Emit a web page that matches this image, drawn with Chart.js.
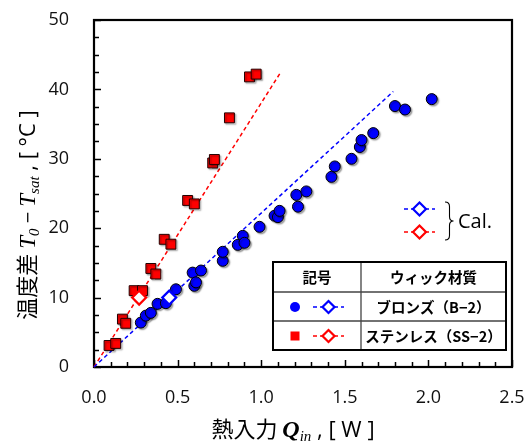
<!DOCTYPE html>
<html><head><meta charset="utf-8">
<script src="https://cdn.jsdelivr.net/npm/chart.js@4/dist/chart.umd.min.js"></script>
<style>html,body{margin:0;padding:0;background:#fff}#wrap{width:530px;height:444px}</style>
</head><body><div id="wrap"><canvas id="c" width="530" height="444"></canvas></div>
<script>
// Measured temperature difference vs. heat input for two wick materials
const bronzeQ = [0.28,0.31,0.34,0.38,0.43,0.49,0.59,0.60,0.61,0.64,0.77,0.77,0.86,0.89,0.90,0.99,1.08,1.10,1.11,1.21,1.22,1.27,1.42,1.44,1.54,1.59,1.60,1.67,1.80,1.86,2.02];
const bronzeT = [6.4,7.4,7.8,9.1,9.2,11.2,13.6,11.7,12.2,13.9,15.3,16.6,17.6,18.9,17.9,20.2,21.8,21.6,22.5,24.8,23.1,25.3,27.4,28.9,30.0,31.7,32.7,33.7,37.6,37.1,38.6];
const stainlessQ = [0.09,0.13,0.17,0.19,0.24,0.29,0.34,0.37,0.42,0.46,0.56,0.60,0.71,0.72,0.81,0.93,0.97];
const stainlessT = [3.1,3.4,6.9,6.3,11.0,11.0,14.2,13.4,18.4,17.7,24.0,23.5,29.4,29.9,35.9,41.8,42.2];

// Calculated lines (start, end) and calculated marker points
const bronzeCalLineQ = [0, 1.79];
const bronzeCalLineT = [0, 39.7];
const stainlessCalLineQ = [0, 1.12];
const stainlessCalLineT = [0, 42.6];
const bronzeCalQ = [0.45];
const bronzeCalT = [10.0];
const stainlessCalQ = [0.27];
const stainlessCalT = [10.0];

// Axis ticks
const xTicks = [0, 0.5, 1.0, 1.5, 2.0, 2.5];
const yTicks = [0, 10, 20, 30, 40, 50];

// Legend table texts
const tableHeader = ['記号', 'ウィック材質'];
const tableRows = ['ブロンズ（B−2）', 'ステンレス（SS−2）'];
const calText = 'Cal.';

const BLUE = '#0000ff', RED = '#ff0000';
const pts = (xs, ys) => xs.map((x, i) => ({x, y: ys[i]}));

const SANS = '"Open Sans", "Liberation Sans", sans-serif';
const CJK = '"Noto Sans CJK JP", sans-serif';
const SERIF = '"Liberation Serif", "DejaVu Serif", serif';

function richText(ctx, parts, cx, cy, angle) {
  ctx.save();
  ctx.translate(cx, cy);
  ctx.rotate(angle);
  ctx.textBaseline = 'alphabetic';
  ctx.textAlign = 'left';
  ctx.fillStyle = '#000';
  let total = 0;
  parts.forEach(p => { ctx.font = p.font; p.w = ctx.measureText(p.t).width; total += p.w; });
  let x = -total / 2;
  parts.forEach(p => { ctx.font = p.font; ctx.fillText(p.t, x, p.dy || 0); x += p.w; });
  ctx.restore();
}

function diamond(ctx, x, y, r, color) {
  ctx.save();
  ctx.beginPath();
  ctx.moveTo(x, y - r); ctx.lineTo(x + r, y); ctx.lineTo(x, y + r); ctx.lineTo(x - r, y); ctx.closePath();
  ctx.fillStyle = '#fff'; ctx.fill();
  ctx.lineWidth = 2.2; ctx.strokeStyle = color; ctx.stroke();
  ctx.restore();
}
function dashSeg(ctx, x0, x1, y, color) {
  ctx.save();
  ctx.setLineDash([4, 3]);
  ctx.lineWidth = 1.5; ctx.strokeStyle = color;
  ctx.beginPath(); ctx.moveTo(x0, y); ctx.lineTo(x1, y); ctx.stroke();
  ctx.restore();
}

// Frame and inward tick marks
const framePlugin = {
  id: 'frame',
  beforeDatasetsDraw(chart) {
    const {ctx, chartArea: a, scales: {x, y}} = chart;
    ctx.save();
    ctx.strokeStyle = '#000';
    ctx.lineWidth = 1.5;
    ctx.beginPath();
    for (let i = 0; i <= 20; i++) {
      const v = i * 2.5;
      const py = Math.round(y.getPixelForValue(v)) + 0.5;
      const len = (i % 4 === 0) ? 7 : 5;
      ctx.moveTo(a.left, py); ctx.lineTo(a.left + len, py);
    }
    for (let i = 0; i <= 25; i++) {
      const v = i * 0.1;
      const px = Math.round(x.getPixelForValue(v)) + 0.5;
      const len = (i % 5 === 0) ? 7 : 5;
      ctx.moveTo(px, a.bottom); ctx.lineTo(px, a.bottom - len);
    }
    ctx.stroke();
    ctx.lineWidth = 2.2;
    ctx.strokeRect(a.left, a.top, a.right - a.left, a.bottom - a.top);
    ctx.restore();
  },
  beforeDatasetDraw(chart, args) {
    if (args.index > 1) return;
    const ctx = chart.ctx;
    ctx.save();
    ctx.shadowColor = 'rgba(0,0,0,0.35)';
    ctx.shadowOffsetX = 1.5;
    ctx.shadowOffsetY = 1.5;
    ctx.shadowBlur = 1.5;
  },
  afterDatasetDraw(chart, args) {
    if (args.index > 1) return;
    chart.ctx.restore();
  }
};

// Axis titles, legend table and calculation key
const annotPlugin = {
  id: 'annot',
  afterDraw(chart) {
    const ctx = chart.ctx;
    // y title
    richText(ctx, [
      {t: '温度差 ', font: `22px ${CJK}`},
      {t: 'T', font: `italic 23px ${SERIF}`},
      {t: '0', font: `italic 15px ${SERIF}`, dy: 4},
      {t: ' − ', font: `20px ${SANS}`},
      {t: 'T', font: `italic 23px ${SERIF}`},
      {t: 'sat', font: `italic 15px ${SERIF}`, dy: 4},
      {t: ' , [ °C ]', font: `22px ${SANS}`}
    ], 35, 215, -Math.PI / 2);
    // x title
    richText(ctx, [
      {t: '熱入力 ', font: `22px ${CJK}`},
      {t: 'Q', font: `bold italic 24px ${SERIF}`},
      {t: 'in', font: `italic 15px ${SERIF}`, dy: 4},
      {t: ' , [ W ]', font: `22px ${SANS}`}
    ], 293, 437, 0);

    // legend table
    const x0 = 273, x1 = 506, y0 = 262, y1 = 350, xd = 361, yh1 = 292, yh2 = 321;
    ctx.save();
    ctx.fillStyle = '#fff';
    ctx.fillRect(x0, y0, x1 - x0, y1 - y0);
    ctx.strokeStyle = '#444';
    ctx.lineWidth = 1.3;
    ctx.beginPath();
    ctx.moveTo(xd, y0); ctx.lineTo(xd, y1);
    ctx.moveTo(x0, yh1); ctx.lineTo(x1, yh1);
    ctx.moveTo(x0, yh2); ctx.lineTo(x1, yh2);
    ctx.stroke();
    ctx.strokeStyle = '#000';
    ctx.lineWidth = 2;
    ctx.strokeRect(x0, y0, x1 - x0, y1 - y0);
    ctx.fillStyle = '#000';
    ctx.textAlign = 'center';
    ctx.textBaseline = 'middle';
    ctx.font = `bold 14.5px ${CJK}`;
    ctx.fillText(tableHeader[0], (x0 + xd) / 2, 277);
    ctx.fillText(tableHeader[1], (xd + x1) / 2, 277);
    ctx.fillText(tableRows[0], (xd + x1) / 2, 307);
    ctx.fillText(tableRows[1], (xd + x1) / 2, 336);
    // row symbols
    ctx.fillStyle = BLUE;
    ctx.beginPath(); ctx.arc(295, 307, 5, 0, Math.PI * 2); ctx.fill();
    ctx.fillStyle = RED;
    ctx.fillRect(290.5, 331.5, 9, 9);
    ctx.restore();
    dashSeg(ctx, 313, 344, 307, BLUE); diamond(ctx, 328.5, 307, 6, BLUE);
    dashSeg(ctx, 313, 344, 336, RED); diamond(ctx, 328.5, 336, 6, RED);

    // calculation key
    dashSeg(ctx, 404, 435, 209, BLUE); diamond(ctx, 419.5, 209, 6.5, BLUE);
    dashSeg(ctx, 404, 435, 232, RED); diamond(ctx, 419.5, 232, 6.5, RED);
    ctx.save();
    ctx.strokeStyle = '#000';
    ctx.lineWidth = 1.1;
    ctx.beginPath();
    ctx.moveTo(445, 202);
    ctx.quadraticCurveTo(449.5, 202, 449.5, 206.5);
    ctx.lineTo(449.5, 216.5);
    ctx.quadraticCurveTo(449.5, 221, 453.5, 221);
    ctx.quadraticCurveTo(449.5, 221, 449.5, 225.5);
    ctx.lineTo(449.5, 235.5);
    ctx.quadraticCurveTo(449.5, 240, 445, 240);
    ctx.stroke();
    ctx.fillStyle = '#000';
    ctx.font = `20px ${SANS}`;
    ctx.textAlign = 'left';
    ctx.textBaseline = 'middle';
    ctx.fillText(calText, 458, 222);
    ctx.restore();
  }
};

new Chart(document.getElementById('c'), {
  type: 'scatter',
  data: {
    datasets: [
      {label: 'bronze', data: pts(bronzeQ, bronzeT), pointStyle: 'circle', pointRadius: 5.5,
       backgroundColor: BLUE, borderColor: '#000', borderWidth: 1, order: 2},
      {label: 'stainless', data: pts(stainlessQ, stainlessT), pointStyle: 'rect', pointRadius: 7,
       backgroundColor: RED, borderColor: '#200', borderWidth: 1, order: 2},
      {label: 'bronze cal', data: pts(bronzeCalLineQ, bronzeCalLineT), showLine: true, pointRadius: 0,
       borderColor: BLUE, borderWidth: 1.5, borderDash: [4, 3], order: 3},
      {label: 'stainless cal', data: pts(stainlessCalLineQ, stainlessCalLineT), showLine: true, pointRadius: 0,
       borderColor: RED, borderWidth: 1.5, borderDash: [4, 3], order: 3},
      {label: 'bronze cal pt', data: pts(bronzeCalQ, bronzeCalT), pointStyle: 'rectRot', pointRadius: 7,
       backgroundColor: '#fff', borderColor: BLUE, borderWidth: 2.2, order: 1},
      {label: 'stainless cal pt', data: pts(stainlessCalQ, stainlessCalT), pointStyle: 'rectRot', pointRadius: 7,
       backgroundColor: '#fff', borderColor: RED, borderWidth: 2.2, order: 1}
    ]
  },
  options: {
    responsive: false,
    animation: false,
    devicePixelRatio: 1,
    clip: false,
    layout: {padding: {top: 20, right: 18, left: 0, bottom: 0}},
    plugins: {legend: {display: false}, tooltip: {enabled: false}},
    elements: {point: {hoverRadius: 0}},
    scales: {
      x: {
        type: 'linear', min: 0, max: 2.5,
        afterBuildTicks: s => { s.ticks = xTicks.map(v => ({value: v})); },
        afterFit: s => { s.height = 77; s.paddingLeft = 0; s.paddingRight = 0; },
        grid: {display: false, drawTicks: false},
        border: {display: false},
        ticks: {padding: 20, color: '#111', font: {family: SANS, size: 18},
                callback: v => Number(v).toFixed(1), maxRotation: 0}
      },
      y: {
        type: 'linear', min: 0, max: 50,
        afterBuildTicks: s => { s.ticks = yTicks.map(v => ({value: v})); },
        afterFit: s => { s.width = 94; s.paddingTop = 0; s.paddingBottom = 0; },
        grid: {display: false, drawTicks: false},
        border: {display: false},
        ticks: {padding: 25, color: '#111', font: {family: SANS, size: 18},
                callback: v => String(v)}
      }
    }
  },
  plugins: [framePlugin, annotPlugin]
});
</script></body></html>
